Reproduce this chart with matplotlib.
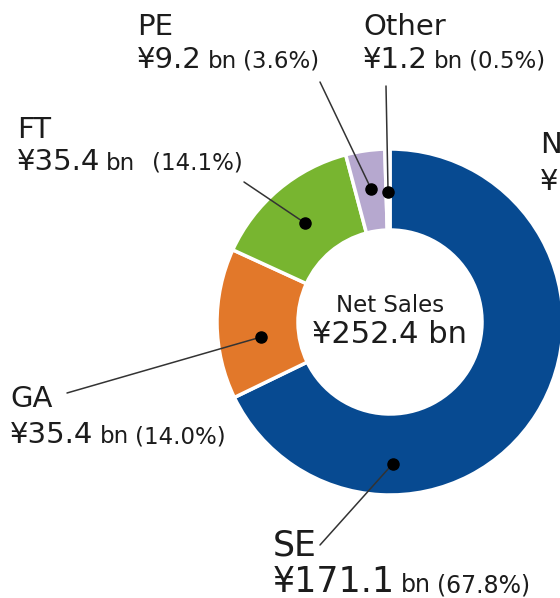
import numpy as np
import matplotlib
matplotlib.use("Agg")
import matplotlib.pyplot as plt

# data ####################################################################
segments = ["SE", "GA", "FT", "PE", "Other"]
sales_bn = [171.1, 35.4, 35.4, 9.2, 1.2]
shares = ["67.8%", "14.0%", "14.1%", "3.6%", "0.5%"]
total_bn = 252.4
colors = ["#074a91", "#e2782a", "#78b530", "#b6a8cf", "#ffffff"]

# layout (pixels, image coords: y grows downward) #########################
W, H = 560, 598
cx, cy = 390, 322          # donut centre
R_out, R_in = 173, 92
# where the dot sits inside each wedge: fraction of the wedge angle, radius
dot_frac = [0.733, 0.38, 0.49, 0.52, 0.5]
dot_r = [142, 130, 130, 134, 130]
# leader line tail
tail = [(320, 545), (67, 393), (244, 182), (320, 82), (386, 86)]
# label: left x, baseline of name, baseline of value, big size, small size, gap after bn
labels = [(273, 555, 592, 25, 17, 6),
          (10, 407, 443, 21, 16.5, 6),
          (17, 138, 170, 21, 16.5, 16),
          (137, 35, 68, 21, 16.5, 6),
          (363, 35, 68, 21, 16.5, 6)]

plt.rcParams['font.family'] = ['DejaVu Sans']
txt_col = "#1c1c1c"

fig = plt.figure(figsize=(W / 100, H / 100), dpi=100)
ax = fig.add_axes([0, 0, 1, 1])

Y = lambda y: H - y

wedges, _ = ax.pie(sales_bn, colors=colors, startangle=90, counterclock=False,
                   radius=R_out, center=(cx, Y(cy)),
                   wedgeprops=dict(width=R_out - R_in, edgecolor="white", linewidth=2.5))
ax.set_xlim(0, W)
ax.set_ylim(0, H)
ax.set_aspect("equal")
ax.axis("off")

# wedge angles, clockwise from 12 o'clock
ends = np.cumsum(sales_bn) / np.sum(sales_bn) * 360
starts = np.concatenate([[0], ends[:-1]])

fig.canvas.draw()
rend = fig.canvas.get_renderer()


def line_of_text(x, y, pieces):
    # pieces: (text, size, gap after)
    for s, size, gap in pieces:
        t = ax.text(x, Y(y), s, fontsize=size, color=txt_col, ha="left", va="baseline")
        bb = t.get_window_extent(renderer=rend)
        x += bb.width + gap


for i, name in enumerate(segments):
    th = np.radians(starts[i] + dot_frac[i] * (ends[i] - starts[i]))
    dx = cx + dot_r[i] * np.sin(th)
    dy = cy - dot_r[i] * np.cos(th)
    tx, ty = tail[i]
    ax.plot([tx, dx], [Y(ty), Y(dy)], color="#333333", lw=1.1, solid_capstyle="round")
    ax.plot(dx, Y(dy), "o", color="black", ms=8)

    lx, nb, vb, big, small, g = labels[i]
    ax.text(lx, Y(nb), name, fontsize=big, color=txt_col, ha="left", va="baseline")
    line_of_text(lx, vb, [("¥%.1f" % sales_bn[i], big, 6),
                          ("bn", small, g),
                          ("(%s)" % shares[i], small, 0)])

# right-hand label cut off by the picture edge
ax.text(540, Y(153), "N", fontsize=21, color=txt_col, ha="left", va="baseline")
ax.text(540, Y(190), "¥", fontsize=21, color=txt_col, ha="left", va="baseline")

# centre
ax.text(cx, Y(312), "Net Sales", fontsize=16.5, color=txt_col, ha="center", va="baseline")
ax.text(cx, Y(343), "¥%.1f bn" % total_bn, fontsize=22, color=txt_col, ha="center", va="baseline")

fig.savefig("out.png", dpi=100)
